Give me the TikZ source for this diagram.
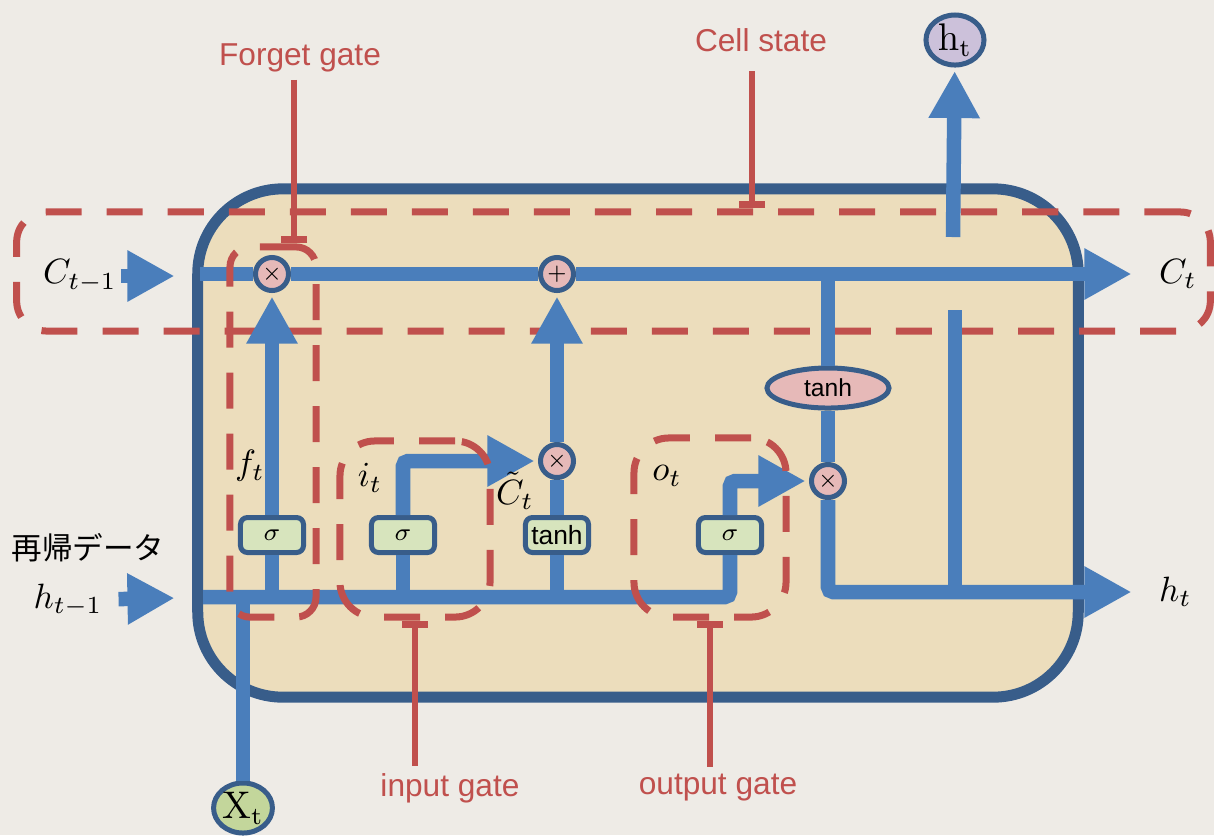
\documentclass[tikz,border=0pt]{standalone}
\usepackage[no-math]{fontspec}
\setmainfont{Liberation Sans}
\newfontfamily\jpfont{Noto Sans CJK JP}
\usepackage{tikz}
\usetikzlibrary{arrows.meta, shapes.geometric, positioning, calc}

\definecolor{bgcol}{HTML}{EEEBE6}
\definecolor{cellfill}{HTML}{ECDDBC}
\definecolor{cellborder}{HTML}{385D8A}
\definecolor{flowblue}{HTML}{4A7EBB}
\definecolor{markred}{HTML}{C0504D}
\definecolor{opfill}{HTML}{E6B9B8}
\definecolor{gatefill}{HTML}{D7E4BD}
\definecolor{htopfill}{HTML}{CCC1DA}
\definecolor{xtfill}{HTML}{C3D69B}

\tikzset{
  cell/.style={draw=cellborder, fill=cellfill, line width=0.11cm, rounded corners=0.85cm},
  flow/.style={draw=flowblue, line width=0.145cm, rounded corners=0.05cm},
  flowto/.style={flow, -{Triangle[length=0.47cm,width=0.48cm]}, shorten >=1pt},
  opnode/.style={circle, draw=cellborder, line width=0.05cm, fill=opfill, minimum size=0.33cm, inner sep=0pt, font=\fontsize{6}{7}\selectfont},
  gatenode/.style={rectangle, rounded corners=0.07cm, draw=cellborder, line width=0.05cm, fill=gatefill, minimum width=0.63cm, minimum height=0.35cm, inner sep=1pt, font=\fontsize{7.5}{9}\selectfont},
  tanhnode/.style={ellipse, draw=cellborder, line width=0.05cm, fill=opfill, minimum width=1.22cm, minimum height=0.40cm, inner sep=0pt, font=\fontsize{7}{8}\selectfont},
  ionode/.style={ellipse, draw=cellborder, line width=0.05cm, minimum width=0.58cm, minimum height=0.50cm, inner sep=0pt, font=\fontsize{10.5}{12}\selectfont},
  region/.style={draw=markred, line width=0.07cm, dash pattern=on 0.36cm off 0.25cm, minimum width=1cm, minimum height=1cm},
  leader/.style={draw=markred, line width=0.06cm},
  tee/.tip={Bar[width=0.26cm, line width=0.07cm]},
  redlbl/.style={text=markred, inner sep=2pt, font=\fontsize{9}{11}\selectfont},
  mathlbl/.style={inner sep=1pt, font=\fontsize{10}{12}\selectfont},
}

\begin{document}
\begin{tikzpicture}[x=0.01cm, y=-0.01cm]
  \useasboundingbox (0,0) rectangle (1214,835);
  \fill[bgcol] (0,0) rectangle (1214,835);

  % LSTM cell
  \node[cell, minimum width=8.80cm, minimum height=5.08cm] (cell) at (638,443) {};
  \node[region, rounded corners=0.3cm, minimum width=11.93cm, minimum height=1.19cm] (cstate) at (613.5,271.5) {};

  % operations
  \node[opnode] (mulF) at (272,274) {$\times$};
  \node[opnode] (add) at (557,274) {$+$};
  \node[opnode] (mulI) at (557,461) {$\times$};
  \node[opnode] (mulO) at (828,481) {$\times$};
  \node[tanhnode] (tanhC) at (828,388) {tanh};
  \node[gatenode] (sigF) at (272,535) {$\sigma$};
  \node[gatenode] (sigI) at (403,535) {$\sigma$};
  \node[gatenode] (tanhI) at (557,535) {tanh};
  \node[gatenode] (sigO) at (730,535) {$\sigma$};
  \node[ionode, fill=htopfill] (htop) at (955,40) {$\mathrm{h_t}$};
  \node[ionode, fill=xtfill] (xt) at (243,808) {$\mathrm{X_t}$};

  % ends of the lines
  \coordinate (cin) at (200,274);
  \coordinate (ctip) at (1135,274);
  \coordinate (hin) at (203,597);
  \coordinate (htip) at (1135,592);
  \coordinate (hlow) at (955,592);
  \coordinate (hcut) at (955,310);
  \coordinate (hgap) at (953,237);
  \coordinate (cprevtip) at (178,276);
  \coordinate (hprevtip) at (178,598);

  % cell state line
  \draw[flow] (cin) -- (mulF);
  \draw[flow] (mulF) -- (add);
  \draw[flowto] (add) -- (ctip);
  % recurrent line
  \draw[flow] (hin) -| (sigO);
  \draw[flow] (xt) -- (xt |- hin);
  % gates
  \draw[flow] (sigF |- hin) -- (sigF);
  \draw[flowto] (sigF) -- (mulF);
  \draw[flow] (sigI |- hin) -- (sigI);
  \draw[flowto] (sigI) |- (mulI);
  \draw[flow] (tanhI |- hin) -- (tanhI);
  \draw[flow] (tanhI) -- (mulI);
  \draw[flowto] (mulI) -- (add);
  \draw[flowto] (sigO) |- (mulO);
  % output
  \draw[flow] (tanhC |- cin) -- (tanhC);
  \draw[flow] (tanhC) -- (mulO);
  \draw[flowto] (mulO) |- (htip);
  \draw[flow] (hlow) -- (hcut);
  \draw[flowto] (hgap) -- (htop);

  % inputs and outputs
  \node[mathlbl] (cprev) at (80,276) {$C_{t-1}$};
  \node[mathlbl] (hprev) at (68,600) {$h_{t-1}$};
  \draw[flowto] (cprev) -- (cprevtip);
  \draw[flowto, shorten <=0.12cm] (hprev) -- (hprevtip);
  \node[mathlbl, right=0.2cm of ctip] (cnext) {$C_t$};
  \node[mathlbl, right=0.2cm of htip] (hnext) {$h_t$};
  \node[font=\jpfont\fontsize{8.7}{10}\selectfont] (recur) at (88,548) {再帰データ};

  % gate regions
  \node[region, rounded corners=0.2cm, minimum width=0.86cm, minimum height=3.70cm] (fgate) at (273,432) {};
  \node[region, rounded corners=0.35cm, minimum width=1.50cm, minimum height=1.76cm] (igate) at (415,529) {};
  \node[region, rounded corners=0.35cm, minimum width=1.52cm, minimum height=1.79cm] (ogate) at (710,527.5) {};

  \node[mathlbl] (ft) at (250,466) {$f_t$};
  \node[mathlbl] (it) at (370,478) {$i_t$};
  \node[mathlbl] (ct) at (515,491) {$\tilde{C}_t$};
  \node[mathlbl] (ot) at (667,476) {$o_t$};

  % labels
  \node[redlbl] (lblF) at (300,58) {Forget gate};
  \node[redlbl] (lblCell) at (761,40) {Cell state};
  \node[redlbl] (lblIn) at (450,788) {input gate};
  \node[redlbl] (lblOut) at (718,788) {output gate};
  \draw[leader, -{tee}] ([xshift=-0.06cm]lblF.south) -- ([xshift=-0.06cm]lblF.south |- fgate.north);
  \draw[leader, -{tee}, shorten <=0.12cm] ([xshift=-0.09cm]lblCell.south) -- ([xshift=-0.09cm]lblCell.south |- cstate.north);
  \draw[leader, {tee}-] (igate.south) -- (igate.south |- lblIn.north);
  \draw[leader, {tee}-] (ogate.south) -- (ogate.south |- lblOut.north);
\end{tikzpicture}
\end{document}
